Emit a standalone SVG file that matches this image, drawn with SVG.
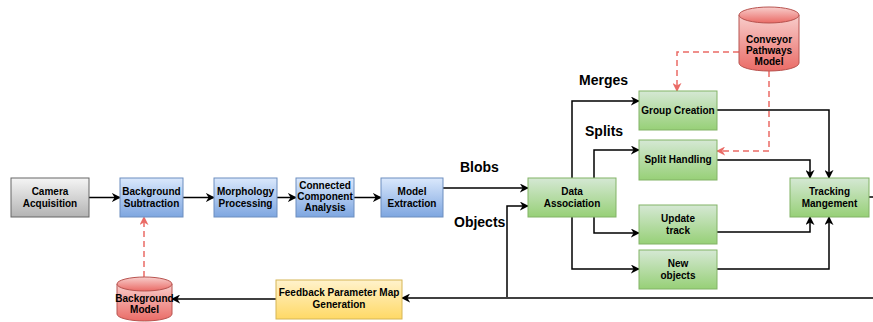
<svg xmlns="http://www.w3.org/2000/svg" width="873" height="322" viewBox="0 0 873 322">
<defs>
<linearGradient id="gGray" x1="0" y1="0" x2="0" y2="1"><stop offset="0" stop-color="#f5f5f5"/><stop offset="1" stop-color="#b3b3b3"/></linearGradient>
<linearGradient id="gBlue" x1="0" y1="0" x2="0" y2="1"><stop offset="0" stop-color="#dae8fc"/><stop offset="1" stop-color="#7ea6e0"/></linearGradient>
<linearGradient id="gGreen" x1="0" y1="0" x2="0" y2="1"><stop offset="0" stop-color="#d5e8d4"/><stop offset="1" stop-color="#97d077"/></linearGradient>
<linearGradient id="gRed" x1="0" y1="0" x2="0" y2="1"><stop offset="0" stop-color="#f8cecc"/><stop offset="1" stop-color="#ea6b66"/></linearGradient>
<linearGradient id="gYellow" x1="0" y1="0" x2="0" y2="1"><stop offset="0" stop-color="#fff2cc"/><stop offset="1" stop-color="#ffd966"/></linearGradient>
<marker id="ah" viewBox="0 0 10 10" refX="9" refY="5" markerWidth="9" markerHeight="9" markerUnits="userSpaceOnUse" orient="auto"><path d="M0,0 L10,5 L0,10 L3,5 Z" fill="#000"/></marker>
<marker id="ahr" viewBox="0 0 10 10" refX="9" refY="5" markerWidth="9" markerHeight="9" markerUnits="userSpaceOnUse" orient="auto"><path d="M0,0 L10,5 L0,10 L3,5 Z" fill="#ea6b66"/></marker>
</defs>
<style>
.t{font-family:"Liberation Sans",Arial,sans-serif;font-weight:bold;font-size:10px;fill:#000;text-anchor:middle}
.lbl{font-family:"Liberation Sans",Arial,sans-serif;font-weight:bold;font-size:14px;fill:#000}
.gray{fill:url(#gGray);stroke:#666666}
.blue{fill:url(#gBlue);stroke:#6c8ebf}
.green{fill:url(#gGreen);stroke:#82b366}
.red{fill:url(#gRed);stroke:#b85450}
.yellow{fill:url(#gYellow);stroke:#d6b656}
.c{fill:none;stroke:#000;stroke-width:1.5;marker-end:url(#ah)}
.cn{fill:none;stroke:#000;stroke-width:1.5}
.d{fill:none;stroke:#ea6b66;stroke-width:1.5;stroke-dasharray:6 4;marker-end:url(#ahr)}
</style>
<rect width="873" height="322" fill="#fff"/>
<g id="connectors">
<path class="c" d="M89,197.5 H120"/>
<path class="c" d="M183,197.5 H214"/>
<path class="c" d="M277,197.5 H296"/>
<path class="c" d="M354,197.5 H381"/>
<path class="c" d="M443,188 H528"/>
<path class="c" d="M507,297 V206 H528"/>
<path class="c" d="M572,178 V101 H639"/>
<path class="c" d="M594,178 V150 H639"/>
<path class="c" d="M594,217 V233 H639"/>
<path class="c" d="M572,217 V269 H639"/>
<path class="c" d="M717,110 H829 V178"/>
<path class="c" d="M717,160 H810 V178"/>
<path class="c" d="M717,232 H810 V217"/>
<path class="c" d="M717,269 H829 V217"/>
<path class="cn" d="M869,197 H873"/>
<path class="c" d="M873,298 H402"/>
<path class="c" d="M276,299 H172"/>
<path class="d" d="M739,52 H677 V91"/>
<path class="d" d="M769,71 V151 H717"/>
<path class="d" d="M144,277 V217"/>
</g>
<g id="camera"><rect class="gray" x="11" y="178" width="78" height="39"/><text class="t" x="50" y="195">Camera</text><text class="t" x="50" y="207">Acquisition</text></g>
<g id="bgsub"><rect class="blue" x="120" y="178" width="63" height="39"/><text class="t" x="151.5" y="195">Background</text><text class="t" x="151.5" y="207">Subtraction</text></g>
<g id="morph"><rect class="blue" x="214" y="178" width="63" height="39"/><text class="t" x="245.5" y="195">Morphology</text><text class="t" x="245.5" y="207">Processing</text></g>
<g id="cca"><rect class="blue" x="296" y="178" width="58" height="39"/><text class="t" x="325" y="189">Connected</text><text class="t" x="325" y="200">Component</text><text class="t" x="325" y="211">Analysis</text></g>
<g id="model"><rect class="blue" x="381" y="178" width="62" height="39"/><text class="t" x="412" y="195">Model</text><text class="t" x="412" y="207">Extraction</text></g>
<g id="da"><rect class="green" x="528" y="178" width="88" height="39"/><text class="t" x="572" y="195">Data</text><text class="t" x="572" y="207">Association</text></g>
<g id="group"><rect class="green" x="639" y="91" width="78" height="39"/><text class="t" x="678" y="114">Group Creation</text></g>
<g id="split"><rect class="green" x="639" y="140" width="78" height="40"/><text class="t" x="678" y="163">Split Handling</text></g>
<g id="update"><rect class="green" x="639" y="205" width="78" height="39"/><text class="t" x="678" y="222">Update</text><text class="t" x="678" y="234">track</text></g>
<g id="newobj"><rect class="green" x="639" y="250" width="78" height="39"/><text class="t" x="678" y="267">New</text><text class="t" x="678" y="279">objects</text></g>
<g id="tracking"><rect class="green" x="790" y="178" width="79" height="39"/><text class="t" x="829.5" y="195">Tracking</text><text class="t" x="829.5" y="207">Mangement</text></g>
<g id="conveyor"><path class="red" d="M739,15 V63 A30,8 0 0 0 799,63 V15"/><ellipse class="red" cx="769" cy="15" rx="30" ry="8"/><text class="t" x="769" y="43">Conveyor</text><text class="t" x="769" y="54">Pathways</text><text class="t" x="769" y="65">Model</text></g>
<g id="feedback"><rect class="yellow" x="276" y="280" width="126" height="39"/><text class="t" x="339" y="296">Feedback Parameter Map</text><text class="t" x="339" y="308">Generation</text></g>
<g id="bgmodel"><path class="red" d="M117,284 V314 A27.5,7 0 0 0 172,314 V284"/><ellipse class="red" cx="144.5" cy="284" rx="27.5" ry="7"/><text class="t" x="144.5" y="302">Background</text><text class="t" x="144.5" y="313">Model</text></g>
<g id="labels">
<text class="lbl" x="460" y="172">Blobs</text>
<text class="lbl" x="454" y="227">Objects</text>
<text class="lbl" x="579" y="85">Merges</text>
<text class="lbl" x="585" y="136">Splits</text>
</g>
</svg>
